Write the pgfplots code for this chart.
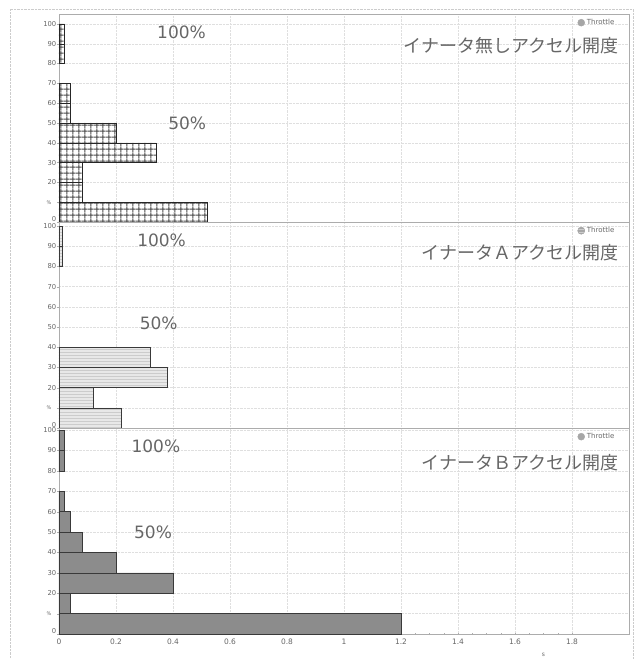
\documentclass[border=0pt]{standalone}
\usepackage{pgfplots}
\pgfplotsset{compat=1.18}
\usepackage{fontspec}
\setmainfont{DejaVu Sans}
\newfontfamily\cjk{Noto Sans CJK JP}
\usetikzlibrary{patterns}
\pgfdeclarepatternformonly{biggrid}{\pgfqpoint{0pt}{0pt}}{\pgfqpoint{5.8pt}{5.8pt}}{\pgfqpoint{5.8pt}{5.8pt}}
{
  \pgfsetlinewidth{1pt}
  \pgfpathmoveto{\pgfqpoint{0pt}{2.9pt}}
  \pgfpathlineto{\pgfqpoint{5.8pt}{2.9pt}}
  \pgfpathmoveto{\pgfqpoint{2.9pt}{0pt}}
  \pgfpathlineto{\pgfqpoint{2.9pt}{5.8pt}}
  \pgfusepath{stroke}
}
\definecolor{txtgray}{rgb}{0.40,0.40,0.40}
\definecolor{barB}{rgb}{0.55,0.55,0.55}
\tikzset{
  hundred/.style={font=\fontsize{17}{20}\selectfont, text=txtgray},
  ttl/.style={font=\cjk\fontsize{18}{20}\selectfont, text=txtgray, anchor=east},
  pct/.style={font=\fontsize{5}{6}\selectfont, text=txtgray},
}
\pgfplotsset{
  panel/.style={
    scale only axis, width=570pt, xmin=0, xmax=2, ymin=0,
    /pgf/number format/assume math mode=true,
    xtick={0,0.2,...,1.8},
    ytick={0,10,...,100},
    yticklabels={\raisebox{5.5pt}{0},,20,30,40,50,60,70,80,90,\raisebox{-1.2pt}{100}},
    grid=major, major grid style={gray!25, densely dotted},
    axis line style={gray!65},
    tick style={gray!65}, major tick length=2pt, minor tick length=2.5pt,
    xtick pos=bottom, ytick pos=left, tick align=inside,
    yticklabel style={font=\fontsize{6.8}{7}\selectfont, text=txtgray, inner sep=0.5pt},
    xticklabel style={font=\fontsize{7.5}{8}\selectfont, text=txtgray},
    xbar, bar width=10, bar shift=0,
    legend style={at={(0.98,0.99)}, anchor=north east, draw=none, fill=none,
      font=\fontsize{7}{8}\selectfont, text=txtgray, inner sep=1pt,
      legend cell align=left},
    clip=false,
  },
  circ/.style={legend image code/.code={\fill[gray!70] (0.25em,0) circle (3.5pt);}},
}
\begin{document}
\begin{tikzpicture}[x=1pt,y=1pt]
\path[use as bounding box] (-59pt,-25pt) rectangle (584pt,634pt);
\draw[gray!40, densely dotted] (-49pt,-25pt) -- (-49pt,625pt) -- (574pt,625pt) -- (574pt,-25pt);

% Panel 1
\begin{axis}[panel, at={(0pt,412pt)}, anchor=south west, height=208pt, ymax=105,
  xticklabels={}, xtick style={draw=none}]
\addplot[draw=gray!30!black, pattern=biggrid, pattern color=gray!60!black, circ]
  coordinates {(0.52,5) (0.08,15) (0.08,25) (0.34,35) (0.20,45) (0.04,55) (0.04,65) (0.02,85) (0.02,95)};
\addlegendentry{Throttle}
\node[hundred] at (axis cs:0.43,96) {100\%};
\node[hundred] at (axis cs:0.45,50) {50\%};
\node[ttl] at (axis cs:1.975,89) {イナータ無しアクセル開度};
\node[pct] at (axis cs:-0.035,10) {\%};
\end{axis}

% Panel 2
\begin{axis}[panel, at={(0pt,206pt)}, anchor=south west, height=206pt, ymax=102,
  xticklabels={}, xtick style={draw=none}]
\addplot[draw=gray!45!black, fill=gray!18, postaction={pattern=horizontal lines, pattern color=gray!40}, circ]
  coordinates {(0.22,5) (0.12,15) (0.38,25) (0.32,35) (0.01,85) (0.01,95)};
\addlegendentry{Throttle}
\node[hundred] at (axis cs:0.36,93) {100\%};
\node[hundred] at (axis cs:0.35,52) {50\%};
\node[ttl] at (axis cs:1.975,87) {イナータＡアクセル開度};
\node[pct] at (axis cs:-0.035,10) {\%};
\end{axis}

% Panel 3
\begin{axis}[panel, at={(0pt,0pt)}, anchor=south west, height=206pt, ymax=101,
  minor x tick num=3, xtick align=center,
  xlabel={s}, xlabel style={font=\fontsize{6}{7}\selectfont, text=txtgray, at={(axis cs:1.70,0)}, anchor=north, yshift=-16pt}]
\addplot[draw=gray!45!black, fill=barB, circ]
  coordinates {(1.2,5) (0.04,15) (0.40,25) (0.20,35) (0.08,45) (0.04,55) (0.02,65) (0.02,85) (0.02,95)};
\addlegendentry{Throttle}
\node[hundred] at (axis cs:0.34,92) {100\%};
\node[hundred] at (axis cs:0.33,50) {50\%};
\node[ttl] at (axis cs:1.975,84) {イナータＢアクセル開度};
\node[pct] at (axis cs:-0.035,10) {\%};
\end{axis}
\end{tikzpicture}
\end{document}
